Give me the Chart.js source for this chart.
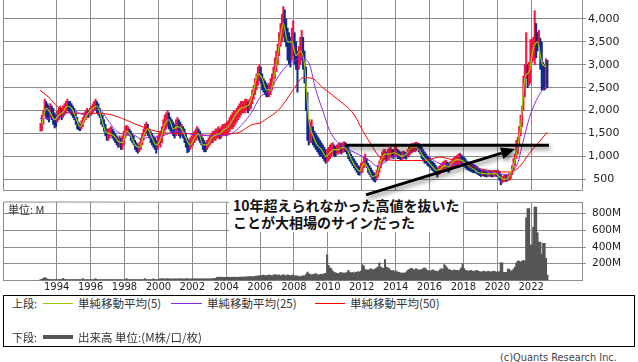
<!DOCTYPE html>
<html>
<head>
<meta charset="utf-8">
<script src="https://cdn.jsdelivr.net/npm/chart.js@4.4.0/dist/chart.umd.min.js"></script>
<style>
  body { margin: 0; width: 638px; height: 362px; background: #fff; position: relative; overflow: hidden; font-family: "DejaVu Sans", sans-serif; color: #222; }
  canvas { position: absolute; left: 0; }
  #priceChart { top: 0; z-index: 3; }
  #volChart { top: 195px; z-index: 1; }
  .jp { position: absolute; font-family: "Noto Sans CJK JP", sans-serif; font-size: 11.5px; line-height: 14px; color: #333; white-space: nowrap; z-index: 2; }
  .note { position: absolute; left: 229px; top: 195px; width: 234px; height: 37px; background: #fff; z-index: 2;
          font: bold 14px "Noto Sans CJK JP", sans-serif; line-height: 17px; color: #111; padding: 2px 0 0 4px; box-sizing: border-box; white-space: nowrap; }
  .legend { position: absolute; left: 3px; top: 295px; width: 632px; height: 52px; border: 1px solid #000; box-sizing: border-box; z-index: 2; }
  .swatch { position: absolute; z-index: 2; }
  .copy { position: absolute; left: 500px; top: 352px; font-size: 9.8px; line-height: 12px; color: #444; z-index: 2; }
</style>
</head>
<body>
<canvas id="priceChart" width="638" height="200"></canvas>
<canvas id="volChart" width="638" height="100"></canvas>

<div class="note">10年超えられなかった高値を抜いた<br>ことが大相場のサインだった</div>
<div class="jp" style="left:8px; top:202px; font-size:11px;">単位: M</div>

<div class="legend"></div>
<div class="jp" style="left:12px; top:296px; font-size:11px;">上段:</div>
<div class="swatch" style="left:43px; top:303px; width:30px; height:1px; background:#99cc00;"></div>
<div class="jp" style="left:78px; top:296px;">単純移動平均(5)</div>
<div class="swatch" style="left:171px; top:303px; width:31px; height:1px; background:#8a2be2;"></div>
<div class="jp" style="left:207px; top:296px;">単純移動平均(25)</div>
<div class="swatch" style="left:315px; top:303px; width:30px; height:1px; background:#ff0000;"></div>
<div class="jp" style="left:350px; top:296px;">単純移動平均(50)</div>
<div class="jp" style="left:12px; top:330px; font-size:11px;">下段:</div>
<div class="swatch" style="left:43px; top:335px; width:30px; height:4px; background:#555;"></div>
<div class="jp" style="left:78px; top:330px;">出来高 単位:(M株/口/枚)</div>
<div class="copy">(c)Quants Research Inc.</div>

<script>
// monthly price range (Jan 1993 - Dec 2022), one line per year
const lo = [
  1550,1560,1700,1900,1850,1800,1750,1850,1800,1700,1620,1650,
  1750,1800,1850,1800,1850,1900,1950,2000,1980,1950,1900,1850,
  1800,1700,1600,1580,1560,1600,1650,1750,1800,1850,1850,1900,
  1900,1950,2000,2000,1950,1900,1850,1700,1650,1550,1450,1350,
  1350,1400,1450,1400,1350,1300,1250,1200,1200,1150,1150,1250,
  1400,1450,1500,1450,1350,1300,1250,1150,1100,1070,1100,1150,
  1250,1350,1450,1500,1450,1400,1300,1250,1200,1150,1070,1150,
  1250,1200,1300,1450,1550,1600,1650,1600,1550,1500,1450,1400,
  1450,1500,1450,1400,1450,1400,1300,1200,1080,1100,1150,1200,
  1250,1300,1350,1400,1350,1300,1250,1150,1100,1100,1150,1200,
  1250,1300,1300,1350,1350,1400,1400,1380,1400,1450,1450,1450,
  1450,1500,1550,1600,1600,1650,1700,1750,1800,1850,1900,1950,
  1950,1950,2000,1950,2000,2050,2150,2250,2350,2450,2550,2650,
  2600,2450,2400,2350,2300,2300,2300,2350,2450,2550,2700,2850,
  3000,3200,3400,3500,3600,3500,3400,3100,3000,2950,3100,3200,
  3000,2900,2400,2900,3000,3100,2900,2600,2000,1350,1250,1300,
  1300,1250,1200,1150,1100,1050,1000,1000,950,900,850,880,
  900,950,1000,1050,1000,1000,1050,1050,1080,1050,1080,1100,
  1100,1050,950,900,850,800,750,700,650,600,590,650,
  650,750,800,750,650,600,550,500,460,440,480,550,
  650,750,850,900,950,900,950,950,1000,980,950,1000,
  1000,950,950,920,930,950,960,940,980,1000,1050,1080,
  1100,1100,1120,1150,1100,1050,950,900,850,850,800,780,
  750,700,680,650,600,550,600,620,650,650,680,700,
  680,650,680,720,750,780,800,800,820,850,830,800,
  780,750,720,700,680,670,650,640,650,620,600,580,
  560,580,570,560,550,560,570,560,550,560,570,560,
  560,480,380,420,450,460,450,470,480,500,600,700,
  800,950,1050,1250,1450,1650,2000,2300,2700,2500,2550,2600,
  3050,3100,3000,3150,3300,3400,2900,2450,2450,2450,2480,2500
];
const hi = [
  1720,1900,2000,2250,2200,2150,2100,2150,2100,2050,1950,1900,
  2000,2050,2100,2050,2100,2150,2200,2250,2200,2200,2150,2100,
  2050,1950,1850,1750,1700,1780,1850,1950,2000,2050,2000,2050,
  2100,2150,2200,2250,2200,2150,2050,1950,1900,1800,1700,1600,
  1600,1620,1650,1600,1550,1500,1450,1400,1450,1400,1450,1550,
  1650,1680,1650,1600,1550,1500,1450,1350,1300,1250,1300,1400,
  1500,1600,1700,1750,1700,1600,1550,1500,1450,1400,1350,1450,
  1500,1550,1650,1800,1900,1950,2000,1950,1850,1800,1750,1700,
  1800,1850,1800,1750,1700,1650,1600,1500,1400,1350,1400,1450,
  1500,1550,1600,1650,1600,1550,1450,1400,1350,1300,1350,1400,
  1450,1500,1550,1550,1600,1600,1650,1600,1650,1700,1700,1720,
  1750,1780,1850,1900,1950,2000,2000,2050,2100,2150,2200,2200,
  2200,2250,2250,2200,2250,2300,2450,2550,2700,2800,2950,3000,
  2950,2800,2700,2650,2600,2550,2600,2700,2800,2950,3150,3300,
  3450,3700,3900,4100,4270,4200,4000,3800,3700,3600,3800,3960,
  3700,3500,3300,3400,3600,3750,3600,3300,2950,2400,1800,1750,
  1800,1650,1550,1500,1450,1400,1350,1300,1250,1200,1150,1150,
  1200,1250,1280,1300,1250,1220,1250,1280,1300,1280,1300,1320,
  1300,1260,1200,1100,1050,1000,950,900,850,800,780,850,
  880,1000,1050,950,850,800,750,700,650,620,700,800,
  900,1000,1100,1150,1150,1100,1150,1180,1200,1150,1150,1200,
  1200,1150,1120,1100,1100,1120,1100,1080,1150,1200,1250,1280,
  1280,1300,1310,1300,1280,1250,1200,1150,1100,1050,1000,980,
  950,900,880,850,800,750,780,800,850,880,900,920,
  880,860,880,900,950,980,1000,1020,1050,1070,1040,1000,
  980,950,900,880,860,850,830,820,800,780,750,720,
  700,710,700,690,680,690,700,680,680,690,700,690,
  700,680,600,560,580,600,590,600,620,650,800,950,
  1050,1350,1420,1650,1900,2100,2750,3000,3700,3000,3050,3550,
  3550,3600,4180,3900,3700,3750,3580,3500,3050,3000,3130,3100
];
// monthly volume, millions of shares
const volume = [
  10,12,25,32,28,15,10,12,10,8,10,12,
  8,10,12,10,25,12,8,8,10,8,8,10,
  8,8,10,8,8,8,22,8,8,8,8,8,
  8,8,10,20,8,8,10,8,10,8,8,8,
  8,8,8,8,8,8,8,8,8,8,8,8,
  8,20,8,8,8,8,8,8,8,8,8,8,
  8,8,20,8,8,8,8,8,18,8,8,8,
  15,18,20,18,15,18,20,18,15,18,15,18,
  18,15,18,20,18,15,18,18,20,18,15,18,
  18,17,18,19,18,17,18,19,18,17,18,18,
  18,18,20,20,25,35,38,36,38,35,37,36,
  36,38,35,36,38,36,38,37,36,38,40,38,
  40,42,40,45,42,44,45,42,48,50,52,55,
  60,58,62,55,60,58,65,60,55,62,70,65,
  60,65,55,60,70,60,55,65,60,55,60,65,
  55,50,55,45,45,50,55,55,70,100,80,70,
  65,70,75,80,70,65,70,75,70,80,85,305,
  180,150,140,110,95,90,85,80,90,95,85,90,
  85,95,120,100,90,95,85,100,95,105,100,110,
  185,170,130,125,120,130,140,125,130,135,150,160,
  210,160,150,145,250,160,150,140,120,110,120,100,
  110,100,95,90,85,90,85,100,120,130,140,145,
  130,125,140,130,120,130,125,140,150,135,120,115,
  110,120,125,115,110,105,110,130,140,130,190,170,
  150,130,125,120,115,125,120,120,115,125,150,200,
  140,120,115,110,115,120,110,105,115,120,110,105,
  100,105,110,105,100,110,105,100,105,110,105,100,
  100,105,210,210,95,95,95,135,135,115,115,135,
  160,210,230,230,220,230,240,230,750,862,862,422,
  422,640,880,880,570,460,460,315,443,443,263,63
];
// 5-period average, read quarterly
const ma5 = [
  1700,2050,1950,1800, 1900,1970,2100,2050, 1850,1650,1800,1950, 2050,2100,1850,1550,
  1500,1450,1330,1300, 1550,1450,1250,1200, 1450,1600,1400,1250, 1380,1700,1800,1600,
  1650,1600,1400,1250, 1400,1500,1250,1250, 1400,1470,1500,1580, 1650,1800,1950,2050,
  2080,2150,2450,2800, 2700,2450,2450,2850, 3400,3900,3500,3500, 3200,3300,3000,1800,
  1450,1250,1150,1000, 1080,1150,1150,1200, 1150,950,780,680, 850,750,560,600,
  900,1050,1050,1080, 1050,1000,1050,1180, 1200,1150,1000,900, 800,700,720,800,
  770,880,930,920, 850,770,720,650, 630,620,620,630, 560,500,530,720,
  1050,1650,2700,2850, 3350,3500,3050,2950
];
// 25-period average
const ma25Yr = [1993.0,1993.5,1994.05,1994.5,1995.0,1995.5,1996.0,1996.5,1997.0,1997.5,1998.0,1998.5,1999.0,1999.5,
  2000.0,2000.5,2001.0,2001.5,2002.0,2002.5,2003.0,2003.5,2004.0,2004.5,2005.0,2005.5,2006.0,2006.5,2007.0,2007.5,
  2008.0,2008.4,2008.9,2009.3,2009.7,2010.1,2010.6,2011.1,2011.6,2012.1,2012.5,2012.9,2013.3,2013.7,2014.2,2014.7,
  2015.2,2015.6,2016.0,2016.5,2017.0,2017.5,2018.0,2018.5,2019.0,2019.5,2020.0,2020.5,2020.9,2021.2,2021.5,2021.9,
  2022.3,2022.65,2022.95];
const ma25 = [1830,1830,1830,1930,2000,1920,1960,2030,1800,1560,1480,1470,1380,1420,
  1420,1480,1550,1520,1480,1460,1450,1460,1460,1540,1720,1960,2290,2420,2700,2950,
  3080,3150,3020,2440,2000,1570,1300,1180,1080,990,900,790,850,960,1020,1040,
  1150,1130,985,860,820,820,855,810,720,660,640,600,680,850,1285,1850,
  2220,2440,2550];
// 50-period average
const ma50Yr = [1993.0,1993.6,1994.0,1994.6,1995.2,1995.8,1996.5,1997.3,1998.1,1999.1,2000.1,2001.1,2002.0,2002.9,
  2004.1,2004.8,2005.5,2006.0,2006.5,2007.0,2007.5,2008.0,2008.55,2009.1,2009.7,2010.3,2010.9,2011.5,2012.05,
  2012.65,2013.05,2013.65,2014.4,2015.0,2015.6,2016.0,2016.6,2017.4,2018.0,2018.6,2019.4,2020.2,2020.75,2021.3,
  2021.9,2022.4,2022.95];
const ma50 = [2450,2265,2100,1960,1940,1940,1940,1900,1790,1640,1530,1500,1500,1460,
  1490,1530,1690,1730,1850,1980,2200,2480,2720,2700,2500,2330,2150,1940,1570,
  1200,990,920,910,910,910,930,985,920,855,770,700,660,660,770,
  1070,1285,1530];
const yearTicks = [1994,1996,1998,2000,2002,2004,2006,2008,2010,2012,2014,2016,2018,2020,2022];
const priceTicks = [500,1000,1500,2000,2500,3000,3500,4000];
const volTicks = [200,400,600,800];

// annotation: the old high line and the arrow
const highLine = { from: 2011.0, to: 2023.05, price: 1245 };
const arrow = { fromYr: 2012.25, fromPrice: 160, toYr: 2021.05, toPrice: 1160 };

const monthX = lo.map((_, i) => 1993 + (i + 0.5) / 12);
const mid = lo.map((v, i) => (v + hi[i]) / 2);
const barColors = mid.map((m, i) => (i === 0 || m >= mid[i - 1]) ? '#f0143c' : '#0f2a8a');

const GRID = '#8c8c8c';
const X_MIN = 1990.83, X_MAX = 2025;

const framePlugin = {
  id: 'frame',
  afterDraw(chart, args, opts) {
    const { ctx, chartArea: a } = chart;
    ctx.save();
    ctx.strokeStyle = GRID;
    ctx.lineWidth = 1;
    ctx.beginPath();
    ctx.moveTo(Math.round(a.left) + 0.5, a.bottom);
    ctx.lineTo(Math.round(a.left) + 0.5, a.top);
    if (opts.top) ctx.lineTo(a.right, Math.round(a.top) + 0.5);
    ctx.stroke();
    ctx.restore();
  }
};

const notePlugin = {
  id: 'notes',
  afterDatasetsDraw(chart) {
    const { ctx, scales: { x, y } } = chart;
    ctx.save();
    ctx.shadowColor = 'rgba(0,0,0,0.45)';
    ctx.shadowBlur = 4;
    ctx.shadowOffsetX = 2;
    ctx.shadowOffsetY = 3;
    ctx.strokeStyle = '#000';
    ctx.fillStyle = '#000';
    ctx.lineWidth = 3;
    const hy = y.getPixelForValue(highLine.price);
    ctx.beginPath();
    ctx.moveTo(x.getPixelForValue(highLine.from), hy);
    ctx.lineTo(x.getPixelForValue(highLine.to), hy);
    ctx.stroke();

    const x0 = x.getPixelForValue(arrow.fromYr), y0 = y.getPixelForValue(arrow.fromPrice);
    const x1 = x.getPixelForValue(arrow.toYr), y1 = y.getPixelForValue(arrow.toPrice);
    const ang = Math.atan2(y1 - y0, x1 - x0);
    const head = 14, half = 6;
    const bx = x1 - head * Math.cos(ang), by = y1 - head * Math.sin(ang);
    ctx.beginPath();
    ctx.moveTo(x0, y0);
    ctx.lineTo(bx, by);
    ctx.stroke();
    ctx.beginPath();
    ctx.moveTo(x1, y1);
    ctx.lineTo(bx + half * Math.sin(ang), by - half * Math.cos(ang));
    ctx.lineTo(bx - half * Math.sin(ang), by + half * Math.cos(ang));
    ctx.closePath();
    ctx.fill();
    ctx.restore();
  }
};

function xAxis(showLabels, height) {
  return {
    type: 'linear', min: X_MIN, max: X_MAX, offset: false,
    afterBuildTicks: s => { s.ticks = yearTicks.map(v => ({ value: v })); },
    afterFit: s => { s.height = height; s.paddingLeft = 0; s.paddingRight = 0; },
    grid: { color: GRID, offset: false, drawTicks: false },
    border: { display: true, color: GRID },
    ticks: { display: showLabels, padding: 1, maxRotation: 0, autoSkip: false,
             font: { family: 'DejaVu Sans', size: 10 }, color: '#222', callback: v => String(v) }
  };
}

new Chart(document.getElementById('priceChart'), {
  type: 'bar',
  data: {
    datasets: [
      { type: 'line', data: ma5.map((v, i) => ({ x: 1993 + (i + 0.5) / 4, y: v })), borderColor: '#99cc00',
        borderWidth: 1.2, pointRadius: 0, cubicInterpolationMode: 'monotone', order: 0 },
      { type: 'line', data: ma25.map((v, i) => ({ x: ma25Yr[i], y: v })), borderColor: '#8a2be2',
        borderWidth: 1, pointRadius: 0, cubicInterpolationMode: 'monotone', order: 1 },
      { type: 'line', data: ma50.map((v, i) => ({ x: ma50Yr[i], y: v })), borderColor: '#ff0000',
        borderWidth: 1, pointRadius: 0, cubicInterpolationMode: 'monotone', order: 2 },
      { type: 'bar', data: monthX.map((v, i) => ({ x: v, y: [lo[i], hi[i]] })), backgroundColor: barColors,
        barThickness: 1.4, order: 5 }
    ]
  },
  options: {
    responsive: false, animation: false, events: [],
    layout: { padding: { left: 3, right: 0, top: 0, bottom: 10 } },
    plugins: { legend: { display: false }, tooltip: { enabled: false }, frame: { top: false } },
    scales: {
      x: xAxis(false, 0),
      y: {
        position: 'right', min: 267, max: 4413,
        afterBuildTicks: s => { s.ticks = priceTicks.map(v => ({ value: v })); },
        afterFit: s => { s.width = 56; s.paddingTop = 0; s.paddingBottom = 0; },
        grid: { color: GRID, tickLength: 4 },
        border: { display: true, color: GRID },
        ticks: { crossAlign: 'center', padding: 2, font: { family: 'DejaVu Sans', size: 11 }, color: '#222',
                 callback: v => v.toLocaleString('en-US') }
      }
    }
  },
  plugins: [framePlugin, notePlugin]
});

new Chart(document.getElementById('volChart'), {
  type: 'bar',
  data: {
    datasets: [
      { data: monthX.map((v, i) => ({ x: v, y: volume[i] })), backgroundColor: '#555555',
        barPercentage: 1, categoryPercentage: 1 }
    ]
  },
  options: {
    responsive: false, animation: false, events: [],
    layout: { padding: { left: 3, right: 0, top: 7, bottom: 0 } },
    plugins: { legend: { display: false }, tooltip: { enabled: false }, frame: { top: true } },
    scales: {
      x: xAxis(true, 14.7),
      y: {
        position: 'right', min: 0, max: 941,
        afterBuildTicks: s => { s.ticks = volTicks.map(v => ({ value: v })); },
        afterFit: s => { s.width = 56; s.paddingTop = 0; s.paddingBottom = 0; },
        grid: { color: GRID, tickLength: 4 },
        border: { display: true, color: GRID },
        ticks: { crossAlign: 'center', padding: 6, font: { family: 'DejaVu Sans', size: 10.5 }, color: '#222',
                 callback: v => v + 'M' }
      }
    }
  },
  plugins: [framePlugin]
});
</script>
</body>
</html>
